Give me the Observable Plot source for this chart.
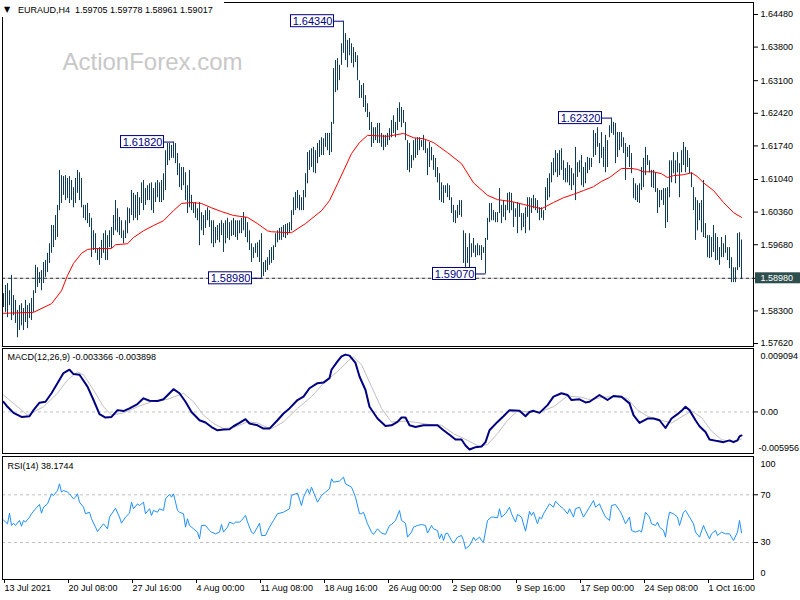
<!DOCTYPE html>
<html>
<head>
<meta charset="utf-8">
<script src="https://cdn.jsdelivr.net/npm/d3@7"></script>
<script src="https://cdn.jsdelivr.net/npm/@observablehq/plot@0.6"></script>
<style>
html,body{margin:0;padding:0;background:#fff;}
#chart{position:relative;width:800px;height:600px;overflow:hidden;background:#fff;}
#chart svg{position:absolute;left:0;max-width:none;}
#hdr{position:absolute;left:0;top:0;width:224px;height:17px;background:#fff;font:9px "Liberation Sans",Arial,sans-serif;line-height:10px;color:#000;white-space:pre;z-index:5;}
#hdr .tri{position:absolute;left:4px;top:5px;font:8px "DejaVu Sans",sans-serif;line-height:10px;}
#hdr .txt{position:absolute;left:18px;top:5px;}
</style>
</head>
<body>
<div id="chart"></div>
<script>
// ---------------- DATA ----------------
const symbol = "EURAUD";
const timeframe = "H4";
const lastOHLC = [1.59705, 1.59778, 1.58961, 1.59017];
const watermark = "ActionForex.com";

// H4 bar highs / lows (bar index 0 = 13 Jul 2021 00:00)
const barHigh = [
1.5866,1.5883,1.5887,1.5872,1.5904,1.5862,1.5852,1.5831,1.5841,1.5845,
1.5835,1.5852,1.5841,1.5845,1.5856,1.5872,1.5925,1.5920,1.5910,1.5914,
1.5931,1.5935,1.5950,1.5970,1.6008,1.6008,1.6029,1.6050,1.6123,1.6112,
1.6110,1.6112,1.6106,1.6110,1.6102,1.6087,1.6106,1.6123,1.6118,1.6106,
1.6050,1.6050,1.6054,1.6033,1.6023,1.5997,1.5991,1.5960,1.5962,1.5977,
1.5991,1.5997,1.5987,1.5997,1.6004,1.6029,1.6060,1.6043,1.6025,1.6018,
1.5997,1.6018,1.6045,1.6043,1.6081,1.6075,1.6071,1.6077,1.6066,1.6097,
1.6102,1.6085,1.6091,1.6095,1.6097,1.6085,1.6097,1.6102,1.6097,1.6102,
1.6116,1.6164,1.6179,1.6179,1.6175,1.6182,1.6179,1.6158,1.6137,1.6129,
1.6129,1.6118,1.6091,1.6123,1.6071,1.6054,1.6056,1.6043,1.6056,1.6035,
1.6029,1.6039,1.6045,1.6039,1.6018,1.6018,1.6004,1.6008,1.6012,1.6018,
1.6012,1.6018,1.6023,1.6014,1.6018,1.6023,1.6018,1.6018,1.6018,1.6023,
1.6035,1.6025,1.6014,1.5997,1.5970,1.5962,1.5970,1.5972,1.5977,1.5991,
1.5931,1.5935,1.5941,1.5956,1.5962,1.5966,1.5991,1.5997,1.6002,1.6004,
1.6008,1.6010,1.6012,1.6014,1.6039,1.6066,1.6077,1.6081,1.6071,1.6066,
1.6081,1.6116,1.6160,1.6164,1.6168,1.6171,1.6164,1.6179,1.6185,1.6191,
1.6189,1.6200,1.6200,1.6200,1.6223,1.6335,1.6352,1.6356,1.6342,1.6387,
1.6434,1.6408,1.6394,1.6398,1.6387,1.6379,1.6369,1.6362,1.6310,1.6300,
1.6304,1.6279,1.6262,1.6244,1.6223,1.6212,1.6212,1.6221,1.6221,1.6200,
1.6196,1.6196,1.6200,1.6210,1.6227,1.6237,1.6223,1.6252,1.6264,1.6254,
1.6248,1.6223,1.6185,1.6179,1.6154,1.6185,1.6189,1.6191,1.6191,1.6185,
1.6196,1.6185,1.6168,1.6181,1.6171,1.6154,1.6148,1.6129,1.6116,1.6097,
1.6091,1.6091,1.6095,1.6091,1.6066,1.6050,1.6039,1.6050,1.6060,1.6060,
1.5997,1.5991,1.5962,1.5991,1.5970,1.5981,1.5966,1.5970,1.5966,1.5966,
1.5962,1.5981,1.6023,1.6054,1.6054,1.6039,1.6035,1.6035,1.6085,1.6050,
1.6060,1.6050,1.6075,1.6077,1.6075,1.6056,1.6043,1.6056,1.6054,1.6033,
1.6033,1.6045,1.6066,1.6066,1.6064,1.6071,1.6064,1.6060,1.6045,1.6045,
1.6039,1.6087,1.6106,1.6116,1.6139,1.6148,1.6164,1.6158,1.6164,1.6168,
1.6143,1.6127,1.6139,1.6133,1.6127,1.6116,1.6171,1.6139,1.6143,1.6154,
1.6129,1.6139,1.6150,1.6148,1.6148,1.6206,1.6200,1.6212,1.6179,1.6202,
1.6171,1.6196,1.6185,1.6216,1.6232,1.6223,1.6221,1.6202,1.6202,1.6202,
1.6191,1.6179,1.6171,1.6175,1.6158,1.6106,1.6095,1.6091,1.6095,1.6129,
1.6148,1.6171,1.6154,1.6143,1.6123,1.6123,1.6118,1.6085,1.6081,1.6081,
1.6085,1.6085,1.6087,1.6143,1.6143,1.6160,1.6143,1.6160,1.6137,1.6164,
1.6181,1.6171,1.6164,1.6148,1.6118,1.6087,1.6066,1.6060,1.6054,1.6060,
1.6102,1.6012,1.5987,1.5987,1.5983,1.6008,1.5991,1.5983,1.5962,1.5983,
1.5970,1.5987,1.5962,1.5962,1.5941,1.5920,1.5920,1.5991,1.5993,1.59778
];
const barLow = [
1.5837,1.5827,1.5816,1.5841,1.5810,1.5820,1.5804,1.5774,1.5789,1.5799,
1.5789,1.5806,1.5793,1.5814,1.5810,1.5827,1.5866,1.5879,1.5887,1.5872,
1.5887,1.5900,1.5910,1.5929,1.5950,1.5962,1.5977,1.5983,1.6039,1.6054,
1.6071,1.6060,1.6064,1.6054,1.6060,1.6045,1.6054,1.6075,1.6060,1.6045,
1.6023,1.6018,1.6012,1.6004,1.5941,1.5956,1.5950,1.5935,1.5925,1.5939,
1.5950,1.5935,1.5935,1.5962,1.5960,1.5987,1.5997,1.5993,1.5987,1.5981,
1.5970,1.5981,1.5991,1.6012,1.6029,1.6018,1.6023,1.6018,1.6029,1.6054,
1.6039,1.6050,1.6060,1.6060,1.6039,1.6033,1.6056,1.6066,1.6056,1.6056,
1.6060,1.6081,1.6133,1.6143,1.6148,1.6148,1.6137,1.6112,1.6087,1.6081,
1.6091,1.6060,1.6033,1.6045,1.6039,1.6033,1.6023,1.6018,1.5966,1.5997,
1.5987,1.6002,1.6018,1.6004,1.5970,1.5962,1.5970,1.5977,1.5972,1.5987,
1.5952,1.5970,1.5981,1.5977,1.5985,1.5987,1.5983,1.5977,1.5991,1.5991,
1.5997,1.5983,1.5972,1.5956,1.5931,1.5939,1.5950,1.5941,1.5931,1.5898,
1.5902,1.5910,1.5914,1.5925,1.5929,1.5935,1.5962,1.5972,1.5977,1.5977,
1.5983,1.5981,1.5987,1.5991,1.5997,1.6029,1.6039,1.6043,1.6039,1.6039,
1.6039,1.6066,1.6095,1.6123,1.6129,1.6118,1.6116,1.6137,1.6150,1.6154,
1.6154,1.6171,1.6164,1.6154,1.6160,1.6219,1.6285,1.6289,1.6310,1.6342,
1.6367,1.6352,1.6337,1.6362,1.6346,1.6337,1.6348,1.6310,1.6273,1.6273,
1.6254,1.6244,1.6233,1.6206,1.6171,1.6179,1.6185,1.6179,1.6179,1.6171,
1.6164,1.6171,1.6175,1.6185,1.6191,1.6200,1.6191,1.6206,1.6223,1.6212,
1.6221,1.6185,1.6123,1.6118,1.6127,1.6143,1.6148,1.6154,1.6164,1.6171,
1.6164,1.6158,1.6112,1.6129,1.6143,1.6123,1.6108,1.6097,1.6060,1.6056,
1.6054,1.6075,1.6066,1.6060,1.6033,1.6014,1.6012,1.6023,1.6029,1.6025,
1.5929,1.5918,1.5929,1.5920,1.5941,1.5950,1.5941,1.5945,1.5945,1.5935,
1.5950,1.5907,1.5977,1.6014,1.6018,1.6018,1.6014,1.6014,1.6033,1.6012,
1.6025,1.6018,1.6039,1.6033,1.6039,1.6004,1.6025,1.5991,1.6025,1.5997,
1.6004,1.5991,1.6025,1.5997,1.6033,1.6043,1.6039,1.6033,1.6018,1.6023,
1.6018,1.6039,1.6060,1.6066,1.6097,1.6112,1.6118,1.6108,1.6112,1.6123,
1.6102,1.6097,1.6097,1.6091,1.6081,1.6091,1.6060,1.6108,1.6118,1.6091,
1.6087,1.6095,1.6116,1.6123,1.6129,1.6150,1.6154,1.6171,1.6137,1.6148,
1.6129,1.6118,1.6129,1.6191,1.6200,1.6196,1.6137,1.6150,1.6164,1.6171,
1.6158,1.6102,1.6150,1.6129,1.6116,1.6064,1.6060,1.6056,1.6054,1.6081,
1.6087,1.6112,1.6133,1.6118,1.6087,1.6085,1.6077,1.6033,1.6045,1.6060,
1.6050,1.6002,1.6014,1.6066,1.6097,1.6116,1.6095,1.6118,1.6066,1.6118,
1.6133,1.6118,1.6129,1.6116,1.6087,1.6039,1.5977,1.5997,1.6018,1.5993,
1.5983,1.5981,1.5941,1.5939,1.5941,1.5952,1.5935,1.5935,1.5925,1.5941,
1.5941,1.5950,1.5935,1.5918,1.5889,1.5889,1.5889,1.5914,1.5920,1.58961
];

// moving average (red) : [bar index, value]
const maPoints = [
[0,1.5825],[15,1.5827],[24,1.5845],[29,1.5872],[32,1.5904],[35,1.5929],[39,1.5950],[42,1.5958],
[45,1.5960],[54,1.5960],[56,1.5968],[62,1.5970],[65,1.5983],[70,1.5997],[75,1.6008],[80,1.6018],
[85,1.6039],[89,1.6054],[94,1.6056],[99,1.6054],[104,1.6045],[109,1.6037],[115,1.6029],[122,1.6025],
[127,1.6012],[132,1.5997],[134,1.5995],[144,1.5993],[151,1.6012],[159,1.6039],[163,1.6060],[167,1.6095],
[174,1.6158],[178,1.6181],[182,1.6196],[192,1.6194],[200,1.6200],[205,1.6191],[210,1.6189],[215,1.6181],
[222,1.6160],[229,1.6137],[235,1.6097],[242,1.6071],[247,1.6062],[254,1.6058],[260,1.6052],[267,1.6045],
[269,1.6043],[275,1.6056],[280,1.6066],[285,1.6073],[290,1.6081],[295,1.6089],[299,1.6100],[303,1.6108],
[309,1.6127],[314,1.6127],[317,1.6125],[320,1.6120],[325,1.6120],[329,1.6116],[332,1.6108],[335,1.6112],
[340,1.6114],[344,1.6118],[347,1.6110],[350,1.6097],[355,1.6081],[360,1.6056],[365,1.6035],[369,1.6025]
];

// labelled swing points: [bar index, price]
const swingPoints = [[85,1.6182],[129,1.5898],[170,1.6434],[241,1.5907],[304,1.6232]];
const currentLine = 1.5898;

// right price axis ticks
const priceTicks = [1.6448,1.6380,1.6310,1.6242,1.6174,1.6104,1.6036,1.5968,1.5898,1.5830,1.5762];

// MACD(12,26,9): main line and signal line [bar index, value]
const macdPoints = [
[0,0.00146],[2,0.00074],[5,-0.00013],[9,-0.00071],[13,-0.00061],[15,0.00026],[18,0.00132],[21,0.00146],
[24,0.00268],[28,0.0046],[30,0.00557],[33,0.00605],[35,0.00543],[38,0.00533],[42,0.00363],[45,0.00171],
[48,-0.00032],[51,-0.0008],[54,-0.00071],[57,0.00026],[60,0.00012],[63,0.00051],[67,0.00113],[70,0.00195],
[73,0.00161],[77,0.00156],[80,0.00181],[83,0.00268],[85,0.00326],[88,0.00268],[91,0.00146],[94,0.0],
[98,-0.00119],[101,-0.00152],[104,-0.00216],[107,-0.00263],[110,-0.00253],[113,-0.00249],[115,-0.00205],[118,-0.00158],
[121,-0.00104],[123,-0.00166],[127,-0.00191],[130,-0.00239],[133,-0.00239],[137,-0.00119],[140,-0.00022],[143,0.00051],
[147,0.00171],[150,0.00219],[153,0.0034],[157,0.00413],[160,0.00421],[163,0.00485],[164,0.00605],[167,0.00725],
[169,0.00797],[171,0.00822],[173,0.00807],[176,0.00702],[178,0.00508],[181,0.00315],[183,0.00074],[187,-0.00094],
[191,-0.00201],[194,-0.00191],[197,-0.00143],[199,-0.0008],[201,-0.0008],[203,-0.00191],[206,-0.00216],[210,-0.00191],
[217,-0.00191],[220,-0.00263],[223,-0.00326],[226,-0.00394],[229,-0.00394],[231,-0.0048],[233,-0.00538],[236,-0.00505],
[239,-0.00495],[241,-0.00433],[243,-0.00263],[247,-0.00143],[250,-0.00061],[253,0.00026],[258,0.00016],[261,-0.00061],
[263,0.0],[265,0.00016],[268,-0.00013],[272,0.00098],[275,0.00219],[279,0.00268],[282,0.00243],[284,0.00171],
[288,0.00181],[291,0.00137],[293,0.00146],[298,0.00243],[302,0.00171],[305,0.00229],[309,0.00219],[313,0.00123],
[315,-0.00046],[318,-0.00158],[322,-0.00094],[325,-0.00094],[328,-0.00119],[331,-0.0023],[334,-0.00094],[337,-0.00032],
[339,0.00016],[341,0.00074],[343,0.00026],[346,-0.00119],[348,-0.00205],[351,-0.00288],[353,-0.00394],[357,-0.00418],
[360,-0.00433],[363,-0.00408],[365,-0.00433],[367,-0.00408],[368,-0.0035],[369,-0.003366]
];
const signalPoints = [
[0,0.00243],[12,-0.00046],[20,0.00074],[27,0.00268],[32,0.0046],[37,0.00572],[40,0.00533],[45,0.00315],
[50,0.00074],[54,-0.00046],[60,-0.00013],[67,0.00074],[74,0.00146],[82,0.00181],[90,0.00268],[95,0.00146],
[100,-0.00046],[105,-0.00166],[110,-0.00239],[115,-0.00224],[122,-0.00143],[127,-0.00158],[132,-0.00224],[134,-0.00239],
[140,-0.00143],[147,0.00051],[154,0.00219],[160,0.00413],[167,0.0058],[173,0.0075],[175,0.00789],[179,0.00677],
[184,0.00363],[189,0.00051],[194,-0.00143],[200,-0.00133],[205,-0.00143],[212,-0.00177],[219,-0.00191],[225,-0.00311],
[232,-0.00408],[238,-0.00495],[242,-0.00466],[247,-0.00311],[252,-0.00119],[257,0.00012],[264,0.0],[268,0.0],
[275,0.00074],[282,0.00229],[289,0.0021],[294,0.00171],[299,0.0021],[305,0.00219],[312,0.00195],[317,0.00026],
[322,-0.00061],[329,-0.00119],[334,-0.00158],[339,-0.00071],[344,0.00016],[349,-0.0008],[354,-0.00274],[359,-0.00398],
[364,-0.00423],[369,-0.003898]
];
const macdScale = [-0.005956, 0.009094];

// RSI(14): [bar index, value]
const rsiPoints = [
[0,49.0],[1,47.1],[2,45.7],[3,54.6],[4,44.3],[5,46.2],[6,44.3],[8,48.5],[9,43.7],[10,48.5],
[11,47.1],[13,51.3],[14,54.1],[16,58.3],[18,61.9],[19,54.6],[20,59.6],[22,62.4],[24,70.8],[25,69.4],
[27,73.6],[28,79.2],[29,72.3],[30,73.6],[32,72.3],[33,70.8],[35,66.6],[36,68.0],[37,70.8],[38,63.8],
[40,59.6],[41,54.1],[43,55.4],[44,49.9],[46,42.9],[47,39.2],[48,41.5],[50,45.7],[52,41.5],[53,51.3],
[56,58.8],[58,51.3],[59,46.2],[61,51.3],[63,54.6],[64,63.8],[65,58.3],[67,62.4],[68,61.0],[70,63.8],
[71,54.1],[73,58.3],[74,52.7],[75,56.9],[77,55.4],[78,58.3],[80,56.9],[81,66.6],[83,70.3],[84,68.0],
[85,70.8],[87,56.9],[88,55.4],[90,54.1],[91,42.9],[92,49.9],[93,44.3],[95,41.5],[97,38.7],[98,33.1],
[99,44.3],[101,44.3],[103,40.1],[104,38.7],[106,37.3],[108,38.7],[109,45.1],[110,38.7],[112,42.9],[113,47.1],
[115,45.7],[116,47.1],[118,47.1],[119,48.5],[121,52.7],[122,47.1],[124,38.7],[125,37.3],[127,42.9],[128,46.2],
[129,35.9],[131,35.9],[133,42.9],[135,48.5],[137,54.1],[140,55.4],[143,58.3],[144,69.4],[146,70.8],[147,71.4],
[149,61.0],[150,68.0],[152,75.0],[153,70.8],[154,76.4],[156,68.0],[157,63.8],[159,69.4],[161,72.3],[163,75.0],
[164,83.4],[165,80.6],[168,81.5],[170,84.8],[171,79.2],[174,76.4],[175,72.3],[176,68.0],[178,54.1],[179,54.1],
[180,55.4],[182,45.7],[184,38.7],[185,36.8],[187,41.5],[189,37.9],[191,36.8],[193,44.3],[194,45.1],[196,48.5],
[198,56.9],[199,48.5],[201,46.2],[202,34.5],[204,38.7],[205,42.9],[207,44.3],[209,45.1],[211,44.3],[212,37.9],
[214,44.3],[215,41.5],[217,40.1],[218,33.1],[219,37.3],[220,31.7],[221,37.3],[222,37.9],[224,31.7],[225,29.5],
[227,34.5],[229,35.9],[230,31.7],[231,24.7],[233,27.5],[234,30.3],[235,34.5],[236,31.7],[238,34.5],[239,31.7],
[240,30.3],[242,48.5],[244,51.3],[245,51.3],[247,50.7],[248,58.3],[249,51.3],[251,54.1],[253,59.6],[254,54.1],
[256,47.1],[257,53.5],[259,51.3],[261,39.5],[263,56.1],[264,52.7],[265,55.4],[267,45.7],[268,51.3],[269,49.9],
[270,54.1],[272,59.6],[273,62.4],[275,59.6],[276,64.7],[278,61.0],[280,58.3],[282,54.1],[283,58.3],[285,51.3],
[286,58.3],[288,59.6],[290,51.3],[291,54.1],[293,59.6],[295,65.2],[296,59.6],[298,62.4],[299,58.3],[301,51.3],
[303,48.5],[304,61.0],[306,61.9],[308,56.9],[309,54.1],[311,45.7],[313,51.3],[314,40.1],[316,38.7],[318,40.1],
[319,38.7],[321,55.4],[323,51.3],[324,45.7],[326,44.3],[327,47.1],[328,42.9],[330,40.1],[331,34.5],[332,47.1],
[333,55.4],[335,54.1],[337,51.3],[338,44.3],[340,55.4],[341,56.9],[343,51.3],[345,45.7],[346,38.7],[348,34.5],
[350,44.3],[351,40.1],[353,33.1],[354,37.3],[356,40.1],[357,35.9],[359,38.7],[361,37.3],[363,37.3],[364,34.5],
[365,31.7],[367,38.7],[368,48.5],[369,38.1744]
];
const rsiLevels = [70, 30];
const rsiBounds = [0, 100];

// time axis
const dateTickIdx = [0,32,64,96,128,160,192,224,256,288,320,352];
const dateTickLabels = ["13 Jul 2021","20 Jul 08:00","27 Jul 16:00","4 Aug 00:00","11 Aug 08:00","18 Aug 16:00",
  "26 Aug 00:00","2 Sep 08:00","9 Sep 16:00","17 Sep 00:00","24 Sep 08:00","1 Oct 16:00"];

// ---------------- STYLE / LAYOUT ----------------
const FONT = '"Liberation Sans", Arial, sans-serif';
const BAR = "#103b57";
const NAVY = "#000080";
const GRAY = "#c0c0c0";
const X_DOMAIN = [-0.5, 375];          // bar index domain (2 px per bar)
const PX_IDX = 0.5;                     // index units per pixel
const MAIN_DOMAIN = [1.57558, 1.64730]; // price domain of main panel
const MAIN_H = 344;                     // main plot area height in px
const PX_PRICE = (MAIN_DOMAIN[1] - MAIN_DOMAIN[0]) / MAIN_H;
const baseStyle = {fontFamily: FONT, fontSize: "9px", color: "#000", background: "transparent", overflow: "visible"};

const bars = barHigh.map((h, i) => ({i, high: h, low: barLow[i]}));
const ma = maPoints.map(([i, v]) => ({i, v}));
const swings = swingPoints.map(([i, p]) => ({i, p}));
const macd = macdPoints.map(([i, v]) => ({i, v}));
const signal = signalPoints.map(([i, v]) => ({i, v}));
const rsi = rsiPoints.map(([i, v]) => ({i, v}));

const boxGap = 9.5 * PX_IDX, boxW = 43 * PX_IDX, boxHalfH = 6 * PX_PRICE;
const chart = document.getElementById("chart");
function place(svg, top) { svg.style.top = top + "px"; chart.appendChild(svg); }

// ---------------- MAIN PANEL ----------------
const mainPlot = Plot.plot({
  width: 800, height: 347,
  marginTop: 2, marginBottom: 1, marginLeft: 2, marginRight: 47,
  style: baseStyle,
  x: {domain: X_DOMAIN, axis: null},
  y: {domain: MAIN_DOMAIN},
  marks: [
    Plot.text([watermark], {frameAnchor: "top-left", dx: 60, dy: 60, text: d => d, fontSize: 24, fill: "#c8c8c8", textAnchor: "start", lineAnchor: "middle"}),
    Plot.ruleY([currentLine], {stroke: GRAY}),
    Plot.ruleY([currentLine], {stroke: "#3a3a3a", strokeDasharray: "3,3"}),
    Plot.link(swings, {x1: d => d.i - boxGap, x2: "i", y1: "p", y2: "p", stroke: NAVY}),
    Plot.rect(swings, {x1: d => d.i - boxGap - boxW, x2: d => d.i - boxGap, y1: d => d.p - boxHalfH, y2: d => d.p + boxHalfH, fill: "white", stroke: NAVY}),
    Plot.text(swings, {x: d => d.i - boxGap - boxW / 2, y: "p", text: d => d.p.toFixed(5), fill: NAVY, fontSize: 11}),
    Plot.ruleX(bars, {x: "i", y1: "low", y2: "high", stroke: BAR, strokeWidth: 1}),
    Plot.line(ma, {x: "i", y: "v", stroke: "#ff0000", strokeWidth: 1}),
    Plot.axisY(priceTicks, {anchor: "right", tickSize: 4, tickPadding: 3, tickFormat: d => d.toFixed(5), label: null}),
    Plot.rect([currentLine], {x1: X_DOMAIN[1] + 1, x2: X_DOMAIN[1] + 24, y1: d => d - 5.5 * PX_PRICE, y2: d => d + 5.5 * PX_PRICE, fill: "#2f4f4f"}),
    Plot.text([currentLine], {x: X_DOMAIN[1] + 3.5, y: d => d, text: d => d.toFixed(5), fill: "white", textAnchor: "start"}),
    Plot.frame({stroke: "#000"})
  ]
});
place(mainPlot, 0);

// ---------------- MACD PANEL ----------------
const macdPlot = Plot.plot({
  width: 800, height: 107,
  marginTop: 1, marginBottom: 1, marginLeft: 2, marginRight: 47,
  style: baseStyle,
  x: {domain: X_DOMAIN, axis: null},
  y: {domain: macdScale},
  marks: [
    Plot.ruleY([0], {stroke: GRAY, strokeDasharray: "3,3"}),
    Plot.line(signal, {x: "i", y: "v", stroke: GRAY, strokeWidth: 1}),
    Plot.line(macd, {x: "i", y: "v", stroke: NAVY, strokeWidth: 2}),
    Plot.axisY([0], {anchor: "right", tickSize: 4, tickPadding: 3, tickFormat: () => "0.00", label: null}),
    Plot.text([macdScale[1]], {y: d => d, frameAnchor: "right", dx: 7, dy: 8, textAnchor: "start", text: d => d.toFixed(6)}),
    Plot.text([macdScale[0]], {y: d => d, frameAnchor: "right", dx: 5, dy: -5, textAnchor: "start", text: d => d.toFixed(6)}),
    Plot.text([`MACD(12,26,9) ${macdPoints[macdPoints.length - 1][1].toFixed(6)} ${signalPoints[signalPoints.length - 1][1].toFixed(6)}`],
      {frameAnchor: "top-left", dx: 5, dy: 9, text: d => d, textAnchor: "start", lineAnchor: "middle"}),
    Plot.frame({stroke: "#000"})
  ]
});
place(macdPlot, 347);

// ---------------- RSI PANEL ----------------
const rsiPlot = Plot.plot({
  width: 800, height: 145,
  marginTop: 1, marginBottom: 21, marginLeft: 2, marginRight: 47,
  style: baseStyle,
  x: {domain: X_DOMAIN},
  y: {domain: [-1.0, 102.1]},
  marks: [
    Plot.ruleY(rsiLevels, {stroke: GRAY, strokeDasharray: "3,3"}),
    Plot.line(rsi, {x: "i", y: "v", stroke: "#1e90ff", strokeWidth: 1}),
    Plot.axisY(rsiLevels, {anchor: "right", tickSize: 4, tickPadding: 3, label: null}),
    Plot.text([rsiBounds[1]], {y: d => d, frameAnchor: "right", dx: 7, dy: 5, textAnchor: "start", text: d => String(d)}),
    Plot.text([rsiBounds[0]], {y: d => d, frameAnchor: "right", dx: 7, dy: -5, textAnchor: "start", text: d => String(d)}),
    Plot.text([`RSI(14) ${rsiPoints[rsiPoints.length - 1][1].toFixed(4)}`],
      {frameAnchor: "top-left", dx: 5, dy: 10, text: d => d, textAnchor: "start", lineAnchor: "middle"}),
    Plot.axisX(dateTickIdx, {anchor: "bottom", tickSize: 4, tickPadding: 1, textAnchor: "start", dx: 1,
      tickFormat: d => dateTickLabels[dateTickIdx.indexOf(d)], label: null}),
    Plot.frame({stroke: "#000"})
  ]
});
place(rsiPlot, 455);

// ---------------- HEADER ----------------
const hdr = document.createElement("div");
hdr.id = "hdr";
hdr.innerHTML = `<span class="tri">\u25BC</span><span class="txt"></span>`;
hdr.querySelector(".txt").textContent = `${symbol},${timeframe}  ${lastOHLC.map(v => v.toFixed(5)).join(" ")}`;
chart.appendChild(hdr);
</script>
</body>
</html>
